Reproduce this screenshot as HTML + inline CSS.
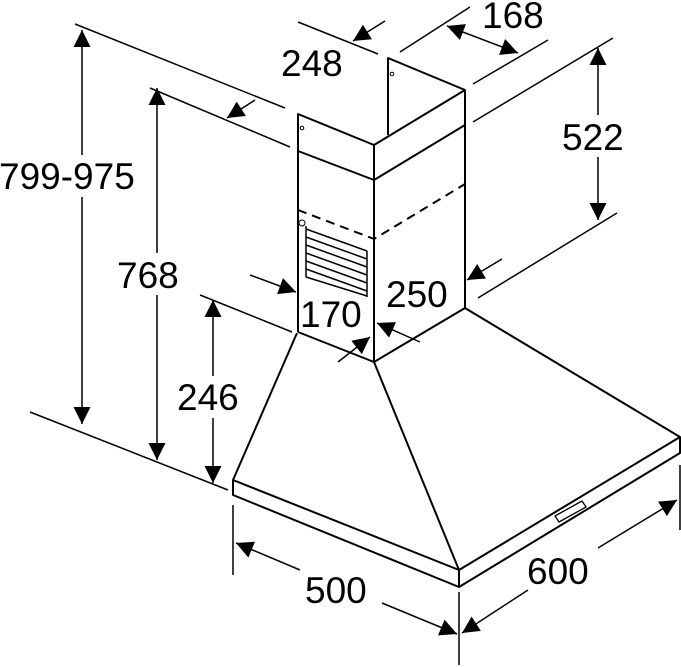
<!DOCTYPE html>
<html><head><style>body{margin:0;background:#fff}svg{display:block}text{font-family:"Liberation Sans",sans-serif;font-size:37px;fill:#000}</style></head><body>
<svg width="681" height="667" viewBox="0 0 681 667" xmlns="http://www.w3.org/2000/svg">
<defs>
<marker id="b" viewBox="0 0 10 10" refX="10" refY="5" markerWidth="25" markerHeight="17" orient="auto-start-reverse" markerUnits="userSpaceOnUse"><path d="M0,0L10,5L0,10z"/></marker></defs>
<g stroke="#000" stroke-width="2" fill="none" stroke-linejoin="round">
<path d="M298,332V114L374,145L465,90V308"/>
<path d="M388,135V58L465,90"/>
<path d="M374,145V362"/>
<path d="M298,151L374,180L465,125"/>
<path d="M298,332L374,362L465,308"/>
<path d="M298,210L374,239L465,184" stroke-dasharray="9,6"/>
<circle cx="302" cy="128" r="1.8" stroke-width="1"/><circle cx="392" cy="74" r="1.8" stroke-width="1"/><circle cx="302" cy="223" r="3" stroke-width="1"/>
<g stroke-width="1.5">
<path d="M306,229L367,251M306,237L367,259M306,245L367,267M306,253L367,275M306,261L367,283M306,269L367,291M306,277L367,296"/>
<path d="M306,226V277"/><path d="M367,251V297"/>
</g>
<path d="M297,333L233,480V495L459,587L680,453V437L465,308"/>
<path d="M374,362L459,570"/>
<path d="M233,480L459,570L680,437"/>
<path d="M459,570V587"/>
<path d="M555,516L582,501L586,507L559,522Z" stroke-width="1.3"/>
<g stroke-width="1.5">
<path d="M233,505V575M459,592V665M680,465V530"/>
<path d="M200,295L292,332"/>
<path d="M30,412L228,490"/>
<path d="M75,24L285,108"/>
<path d="M150,88L290,147"/>
<path d="M298,22L378,54"/>
<path d="M400,52L470,7M473,84L548,40"/>
<path d="M473,122L613,38M478,298L617,213"/>
</g>
<g stroke-width="1.5">
<path d="M82,424V30" marker-start="url(#b)" marker-end="url(#b)"/>
<path d="M157,460V88" marker-start="url(#b)" marker-end="url(#b)"/>
<path d="M213,483V300" marker-start="url(#b)" marker-end="url(#b)"/>
<path d="M598,220V48" marker-start="url(#b)" marker-end="url(#b)"/>
<path d="M300,570L236,543" marker-end="url(#b)"/>
<path d="M382,603L457,634" marker-end="url(#b)"/>
<path d="M528,590L462,633" marker-end="url(#b)"/>
<path d="M598,548L677,500" marker-end="url(#b)"/>
<path d="M447,26L518,53" marker-start="url(#b)" marker-end="url(#b)"/>
<path d="M385,21L353,41" marker-end="url(#b)"/>
<path d="M255,100L227,118" marker-end="url(#b)"/>
<path d="M502,259L467,280" marker-end="url(#b)"/>
<path d="M420,342L377,323" marker-end="url(#b)"/>
<path d="M250,275L296,292" marker-end="url(#b)"/>
<path d="M338,362L370,337" marker-end="url(#b)"/>
</g>
</g>
<rect x="0" y="155" width="144" height="42" fill="#fff"/>
<text x="-1" y="189">799-975</text>
<rect x="118" y="253" width="72" height="42" fill="#fff"/>
<text x="117" y="288">768</text>
<rect x="176" y="376" width="72" height="42" fill="#fff"/>
<text x="177" y="410">246</text>
<rect x="561" y="115" width="72" height="42" fill="#fff"/>
<text x="562" y="150">522</text>
<text x="281" y="76">248</text>
<text x="482" y="28">168</text>
<text x="386" y="307">250</text>
<text x="300" y="327">170</text>
<text x="305" y="603">500</text>
<text x="527" y="584">600</text>
</svg>
</body></html>
